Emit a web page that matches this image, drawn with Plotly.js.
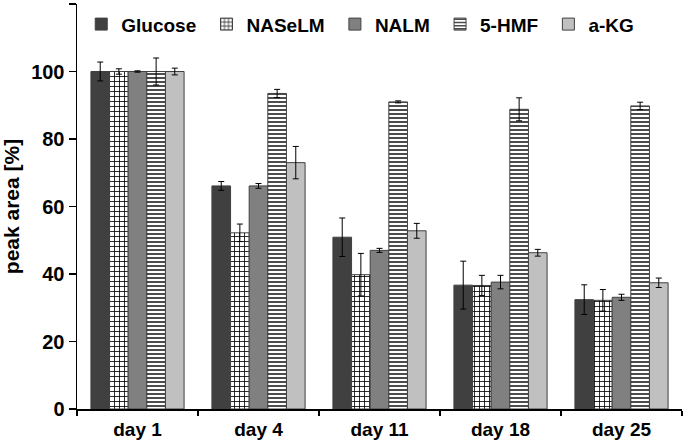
<!DOCTYPE html>
<html>
<head>
<meta charset="utf-8">
<script src="https://cdn.plot.ly/plotly-3.0.1.min.js"></script>
<style>html,body{margin:0;padding:0;background:#fff;}#chart{width:685px;height:445px;}</style>
</head>
<body>
<div id="chart"></div>
<script>
const categories = ["day 1", "day 4", "day 11", "day 18", "day 25"];
const seriesNames = ["Glucose", "NASeLM", "NALM", "5-HMF", "a-KG"];
const glucose = [100, 66.1, 50.9, 36.7, 32.4];
const glucoseErr = [2.8, 1.3, 5.7, 7.1, 4.4];
const naselm = [100, 52.2, 39.8, 36.6, 32.2];
const naselmErr = [0.8, 2.6, 6.3, 3.0, 3.2];
const nalm = [100, 66.1, 47.0, 37.6, 33.1];
const nalmErr = [0.2, 0.7, 0.6, 2.0, 0.9];
const hmf = [100, 93.5, 91.0, 88.8, 89.8];
const hmfErr = [4.0, 1.2, 0.3, 3.4, 1.1];
const akg = [100, 73.0, 52.8, 46.3, 37.4];
const akgErr = [1.0, 4.8, 2.2, 1.0, 1.4];
const yTicks = [0, 20, 40, 60, 80, 100, 120];
const yTickText = ["0", "20", "40", "60", "80", "100", ""];

const values = [glucose, naselm, nalm, hmf, akg];
const errs = [glucoseErr, naselmErr, nalmErr, hmfErr, akgErr];
const fills = ["#404040", "#ffffff", "#808080", "#ffffff", "#c0c0c0"];
const patterns = [
  null,
  {shape: "+", size: 5, solidity: 0.3, fgcolor: "#000000", bgcolor: "#ffffff"},
  null,
  {shape: "-", size: 4, solidity: 0.35, fgcolor: "#000000", bgcolor: "#ffffff"},
  null
];

const traces = seriesNames.map((name, i) => {
  const marker = {color: fills[i], line: {color: "#404040", width: 1}};
  if (patterns[i]) marker.pattern = patterns[i];
  return {
    type: "bar",
    name: name + "\u00a0",
    x: categories,
    y: values[i],
    marker: marker,
    error_y: {type: "data", array: errs[i], visible: true, color: "#000000", thickness: 1, width: 3}
  };
});

const fam = "Liberation Sans, Arial, sans-serif";

const layout = {
  width: 685, height: 445,
  margin: {l: 77, r: 3, t: 4, b: 36},
  paper_bgcolor: "#ffffff", plot_bgcolor: "#ffffff",
  barmode: "group", bargap: 0.23, bargroupgap: 0,
  font: {family: fam, size: 16, color: "#000000", weight: "bold"},
  showlegend: true,
  legend: {
    orientation: "h", x: 0.007, xanchor: "left", y: 0.95, yanchor: "middle",
    font: {family: fam, size: 19, color: "#000000", weight: "bold"},
    bgcolor: "rgba(0,0,0,0)", itemwidth: 30, traceorder: "normal"
  },
  xaxis: {
    type: "category", showline: true, linecolor: "#000000", linewidth: 1.5,
    ticks: "outside", ticklen: 5, tickcolor: "#000000", tickwidth: 1.5, tickson: "boundaries",
    ticklabelstandoff: 3,
    showgrid: false, zeroline: false,
    tickfont: {family: fam, size: 19, color: "#000000", weight: "bold"}
  },
  yaxis: {
    range: [0, 120], tickvals: yTicks, ticktext: yTickText,
    showline: true, linecolor: "#000000", linewidth: 1.5,
    ticks: "outside", ticklen: 7, tickcolor: "#000000", tickwidth: 1.5,
    showgrid: false, zeroline: false,
    tickfont: {family: fam, size: 20, color: "#000000", weight: "bold"},
    title: {text: "peak area [%]", standoff: 8, font: {family: fam, size: 21, color: "#000000", weight: "bold"}}
  }
};

Plotly.newPlot("chart", traces, layout, {staticPlot: true, displayModeBar: false});
</script>
</body>
</html>
